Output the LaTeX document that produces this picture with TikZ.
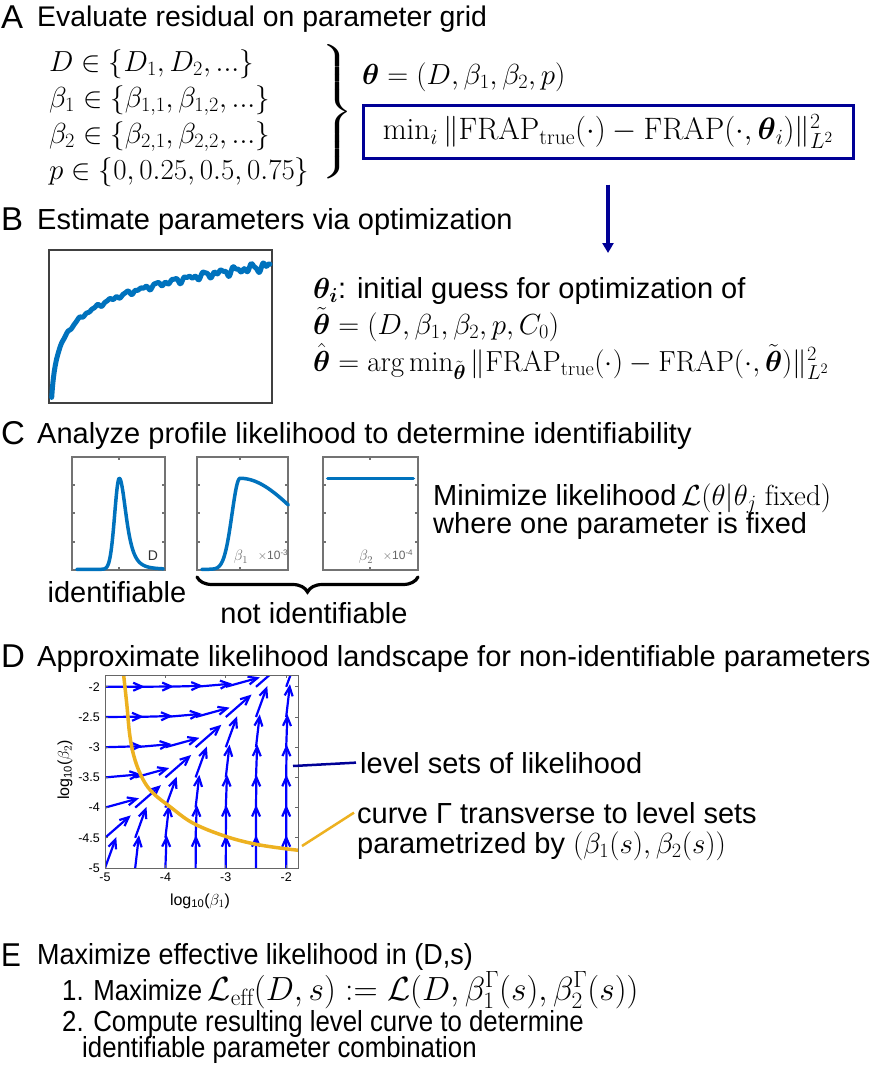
\RequirePackage{fix-cm}
\documentclass[tikz,border=0pt]{standalone}
\usepackage{amsmath}
\usepackage{fontspec}
\newfontfamily\hv{Liberation Sans}
\usetikzlibrary{arrows.meta,decorations.pathreplacing}
\definecolor{navy}{RGB}{0,0,150}
\definecolor{mblue}{RGB}{0,114,189}
\definecolor{morange}{RGB}{237,177,32}
\definecolor{qblue}{RGB}{0,0,255}
\tikzset{
  txt/.style={font=\hv\fontsize{29}{34}\selectfont, inner sep=0pt, anchor=base west},
  mth/.style={font=\fontsize{29}{34}\selectfont, inner sep=0pt, anchor=base west},
  letter/.style={font=\hv\fontsize{33}{38}\selectfont, inner sep=0pt, anchor=base west},
  frameB/.style={draw=black!75, line width=1.5pt},
  frameC/.style={draw=black!55, line width=1.2pt},
  frameD/.style={draw=black!60, line width=1pt},
  curveC/.style={mblue, line width=3.5pt, line cap=round, line join=round},
  tickl/.style={font=\hv\fontsize{12.5}{15}\selectfont, inner sep=1pt},
  axl/.style={font=\hv\fontsize{16}{19}\selectfont, inner sep=0pt},
  quiv/.style={qblue, line width=2.2pt, -{Straight Barb[length=9pt,width=8pt]}},
  smalll/.style={font=\fontsize{15}{17}\selectfont, inner sep=0pt, text=black!60},
  expl/.style={font=\hv\fontsize{12}{14}\selectfont, inner sep=0pt, text=black!60},
}
\begin{document}
\begin{tikzpicture}[x=1pt,y=-1pt]
\useasboundingbox (0,0) rectangle (872,1076);
\fill[white] (0,0) rectangle (872,1076);

% ---------------- Panel A
\node[letter] (LA) at (1,28) {A};
\node[txt, font=\hv\fontsize{28.4}{34}\selectfont] (hA) at (37,27) {Evaluate residual on parameter grid};
\node[mth] (a1) at (49,71) {$D\in\{D_1,D_2,...\}$};
\node[mth] (a2) at (49,107) {$\beta_1\in\{\beta_{1,1},\beta_{1,2},...\}$};
\node[mth] (a3) at (49,143) {$\beta_2\in\{\beta_{2,1},\beta_{2,2},...\}$};
\node[mth] (a4) at (49,179) {$p\in\{0,0.25,0.5,0.75\}$};
\node[inner sep=0pt, font=\fontsize{29}{34}\selectfont] (brA) at (337,112)
  {\scalebox{1.45}[1]{$\left.\vrule height 59pt depth 59pt width 0pt\right\}$}};
\node[mth] (theta) at (362,84) {$\boldsymbol{\theta}=(D,\beta_1,\beta_2,p)$};
\node[draw=navy, line width=3pt, minimum width=490pt, minimum height=53pt, inner sep=0pt,
      font=\fontsize{31}{36}\selectfont] (box) at (608,131.5)
      {$\min_i\|\mathrm{FRAP}_{\mathrm{true}}(\cdot)-\mathrm{FRAP}(\cdot,\boldsymbol{\theta}_i)\|_{L^2}^2$};
\coordinate (arrEnd) at (608,253);
\draw[navy, line width=3.5pt, -{Triangle[length=10pt,width=11pt]}, shorten <=25pt] (box.south) -- (arrEnd);

% ---------------- Panel B
\node[letter] (LB) at (1,230) {B};
\node[txt] (hB) at (37,229) {Estimate parameters via optimization};
\draw[frameB] (49,250) rectangle (272,403);
\draw[mblue, line width=5pt, line join=round, line cap=round]
  plot[domain=0:218.3, samples=260, variable=\t]
  ({51.7+\t}, {397 - 26.3*ln(1+\t/1.5) + (\t/218*0.8+0.2)*(2.8*sin(\t*23)+2.1*sin(\t*37+20)+1.6*sin(\t*59+50))});
\node[txt] (b1) at (313,298) {$\boldsymbol{\theta_i}$: initial guess for optimization of};
\node[mth] (b2) at (313,334) {$\tilde{\boldsymbol{\theta}}=(D,\beta_1,\beta_2,p,C_0)$};
\node[mth] (b3) at (313,371) {$\hat{\boldsymbol{\theta}}=\arg\min_{\tilde{\boldsymbol{\theta}}}\|\mathrm{FRAP}_{\mathrm{true}}(\cdot)-\mathrm{FRAP}(\cdot,\tilde{\boldsymbol{\theta}})\|_{L^2}^2$};

% ---------------- Panel C
\node[letter] (LC) at (1,444) {C};
\node[txt] (hC) at (37,443) {Analyze profile likelihood to determine identifiability};
\foreach \l/\r/\m in {72/165/119, 197/288/240, 323/418/370}{
  \draw[frameC] (\l,457) rectangle (\r,570);
  \foreach \yy in {485,513,542}{
    \draw[frameC] (\l,\yy) -- ++(3,0);
    \draw[frameC] (\r,\yy) -- ++(-3,0);
  }
  \draw[frameC] (\m,457) -- ++(0,3);
  \draw[frameC] (\m,570) -- ++(0,-3);
}
\draw[curveC] plot[domain=76.7:163.3, samples=160, variable=\x]
  (\x, {569.3 - ((\x<119.3) ? 91*exp(-((\x-119.3)/4.6)^2/2) : 91/(1+((\x-119.3)/12.5)^2)^2)});
\draw[curveC] plot[domain=201.7:288.3, samples=160, variable=\x]
  (\x, {569.3 - ((\x<240) ? 91*exp(-((\x-240)/8)^2/2) : 91*exp(-((\x-240)/58)^2/2))});
\draw[curveC] (327.7,478.3) -- (413.3,478.3);
\node[expl, text=black!80, font=\hv\fontsize{14}{16}\selectfont] (labD) at (153,556) {D};
\node[smalll] (lab1) at (241,557) {$\beta_1$};
\node[expl] (lab1e) at (273,555) {$\times$10\textsuperscript{-3}};
\node[smalll] (lab2) at (366,557) {$\beta_2$};
\node[expl] (lab2e) at (398,555) {$\times$10\textsuperscript{-4}};
\node[txt, anchor=base] (ident) at (117,602) {identifiable};
\coordinate (brR) at (418,577);
\coordinate (brL) at (197,577);
\draw[line width=3.2pt, line cap=round, decorate, decoration={brace, amplitude=15pt}] (brR) -- (brL);
\node[txt, anchor=base] (nident) at (314,623) {not identifiable};
\node[txt] (c1) at (433,505) {Minimize likelihood$\,\mathcal{L}(\theta|\theta_j\ \mathrm{fixed})$};
\node[txt] (c2) at (433,533) {where one parameter is fixed};

% ---------------- Panel D
\node[letter] (LD) at (1,667) {D};
\node[txt] (hD) at (37,666) {Approximate likelihood landscape for non-identifiable parameters};
\begin{scope}
\clip (105,675) rectangle (298,868);
\foreach \i in {0,...,6}{
  \foreach \j in {0,...,6}{
    \pgfmathsetmacro{\dd}{0.5*(\i-\j)}
    \pgfmathsetmacro{\ang}{atan(exp(2.302585*(\dd+0.44)))}
    \pgfmathsetmacro{\len}{33+2.3*max(0,-\dd)}
    \pgfmathsetmacro{\px}{105+30.2*\i}
    \pgfmathsetmacro{\py}{868-30.2*\j}
    \draw[quiv] (\px,\py) -- ++({\len*cos(\ang)},{-\len*sin(\ang)});
  }
}
\draw[morange, line width=3.5pt] plot[smooth, tension=0.6] coordinates
  {(123.3,672) (126.7,703.3) (130,736.7) (135,760) (143.3,780) (153.3,793.3) (170,806.7) (193.3,823.3) (226.7,836.7) (260,845) (300,850.5)};
\end{scope}
\draw[frameD] (105,675) rectangle (298,868);
\foreach \k/\lab in {0/-5,1/-4,2/-3,3/-2}{
  \draw[frameD] ({105+60.4*\k},868) -- ++(0,-3);
  \draw[frameD] ({105+60.4*\k},675) -- ++(0,3);
  \node[tickl, anchor=north] (xt\k) at ({105+60.4*\k},872) {\lab};
}
\foreach \k/\lab in {0/-5,1/-4.5,2/-4,3/-3.5,4/-3,5/-2.5,6/-2}{
  \draw[frameD] (105,{868-30.2*\k}) -- ++(3,0);
  \draw[frameD] (298,{868-30.2*\k}) -- ++(-3,0);
  \node[tickl, anchor=east] (yt\k) at (101,{868-30.2*\k}) {\lab};
}
\node[axl] (xlab) at (200,901) {log\textsubscript{10}($\beta_1$)};
\node[axl, rotate=90] (ylab) at (65,770) {log\textsubscript{10}($\beta_2$)};
\node[txt] (lvl) at (360,773) {level sets of likelihood};
\node[txt] (cv1) at (357,823) {curve Γ transverse to level sets};
\node[txt] (cv2) at (357,853) {parametrized by $(\beta_1(s),\beta_2(s))$};
\coordinate (lvlS) at (293,766);
\draw[navy, line width=2.5pt] (lvlS) -- ([xshift=-4pt]lvl.west);
\coordinate (gS) at (302,846);
\draw[morange, line width=2.5pt] (gS) -- ([xshift=-3pt]cv1.west);

% ---------------- Panel E
\node[letter] (LE) at (1,966) {\scalebox{0.9}[1]{E}};
\node[txt] (e0) at (37,964) {\scalebox{0.93}[1]{Maximize effective likelihood in (D,s)}};
\node[txt] (e1) at (62,1000) {\scalebox{0.89}[1]{1. Maximize}{\fontsize{33.5}{38}\selectfont$\,\mathcal{L}_{\mathrm{eff}}(D,s):=\mathcal{L}(D,\beta_1^\Gamma(s),\beta_2^\Gamma(s))$}};
\node[txt] (e2) at (62,1031) {\scalebox{0.89}[1]{2. Compute resulting level curve to determine}};
\node[txt] (e3) at (82,1057) {\scalebox{0.89}[1]{identifiable parameter combination}};
\end{tikzpicture}
\end{document}
